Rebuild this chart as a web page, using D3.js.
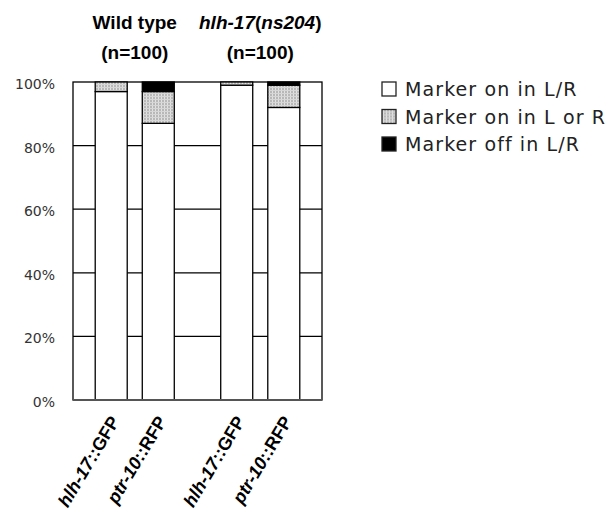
<!DOCTYPE html>
<html>
<head>
<meta charset="utf-8">
<script src="https://cdn.jsdelivr.net/npm/d3@7"></script>
<style>
  body { margin: 0; background: #fff; }
  svg { display: block; }
</style>
</head>
<body>
<div id="chart"></div>
<script>
// groups (strains) and reporters inside each group
const groups = ['Wild type', 'hlh-17(ns204)'];
const groupN = ['(n=100)', '(n=100)'];
const markers = ['hlh-17::GFP', 'ptr-10::RFP'];

// percentages per bar, order: WT hlh-17, WT ptr-10, mutant hlh-17, mutant ptr-10
const onInLR = [97, 87, 99, 92];
const onInLorR = [3, 10, 1, 7];
const offInLR = [0, 3, 0, 1];

const seriesKeys = ['onLR', 'onLorR', 'offLR'];
const legendLabels = ['Marker on in L/R', 'Marker on in L or R', 'Marker off in L/R'];
const yTicks = [0, 20, 40, 60, 80, 100];

const W = 616, H = 520;
const margin = {top: 82, left: 73, right: 294, bottom: 120};
const width = W - margin.left - margin.right;
const height = H - margin.top - margin.bottom;

// build table for the stack
const rows = [];
groups.forEach((g, gi) => {
  markers.forEach((m, mi) => {
    const i = gi * markers.length + mi;
    rows.push({group: g, marker: m, onLR: onInLR[i], onLorR: onInLorR[i], offLR: offInLR[i]});
  });
});

const svg = d3.select('#chart').append('svg')
  .attr('width', W)
  .attr('height', H);

const defs = svg.append('defs');
const pat = defs.append('pattern')
  .attr('id', 'stipple')
  .attr('patternUnits', 'userSpaceOnUse')
  .attr('width', 3)
  .attr('height', 3);
pat.append('rect').attr('width', 3).attr('height', 3).attr('fill', '#b8b8b8');
pat.append('rect').attr('x', 1).attr('width', 1).attr('height', 3).attr('fill', '#e2e2e2');
pat.append('rect').attr('y', 2).attr('width', 3).attr('height', 1).attr('fill', '#d6d6d6');

const fills = {onLR: '#fff', onLorR: 'url(#stipple)', offLR: '#000'};

const x0 = d3.scaleBand()
  .domain(groups)
  .range([0, width])
  .paddingInner(0.37)
  .paddingOuter(0.177);

const x1 = d3.scaleBand()
  .domain(markers)
  .range([0, x0.bandwidth()])
  .paddingInner(0.32);

const y = d3.scaleLinear()
  .domain([0, 100])
  .range([height, 0]);

const chart = svg.append('g')
  .attr('transform', `translate(${margin.left},${margin.top})`);

// horizontal grid lines
chart.append('g')
  .selectAll('line')
  .data(yTicks.filter(t => t > 0 && t < 100))
  .enter().append('line')
  .attr('x1', 0)
  .attr('x2', width)
  .attr('y1', d => y(d))
  .attr('y2', d => y(d))
  .attr('stroke', '#000')
  .attr('stroke-width', 1.3);

// plot frame
chart.append('rect')
  .attr('x', 0)
  .attr('y', 0)
  .attr('width', width)
  .attr('height', height)
  .attr('fill', 'none')
  .attr('stroke', '#000')
  .attr('stroke-width', 1.3);

// stacked bars
const stacked = d3.stack().keys(seriesKeys)(rows);

chart.append('g')
  .selectAll('g')
  .data(stacked)
  .enter().append('g')
  .attr('fill', d => fills[d.key])
  .selectAll('rect')
  .data(d => d.filter(s => s[1] > s[0]))
  .enter().append('rect')
  .attr('x', d => x0(d.data.group) + x1(d.data.marker))
  .attr('y', d => y(d[1]))
  .attr('width', x1.bandwidth())
  .attr('height', d => y(d[0]) - y(d[1]))
  .attr('stroke', '#000')
  .attr('stroke-width', 1.3);

// bottom axis line
chart.append('line')
  .attr('x1', 0)
  .attr('x2', width)
  .attr('y1', height)
  .attr('y2', height)
  .attr('stroke', '#555')
  .attr('stroke-width', 2);

// y tick labels
chart.append('g')
  .selectAll('text')
  .data(yTicks)
  .enter().append('text')
  .attr('x', -18)
  .attr('y', d => y(d) + 2)
  .attr('dy', '0.35em')
  .attr('text-anchor', 'end')
  .attr('font-family', 'DejaVu Sans, sans-serif')
  .attr('font-size', 14)
  .attr('fill', '#333')
  .text(d => d + '%');

// x labels, rotated, gene name in italics
const xl = chart.append('g')
  .selectAll('text')
  .data(rows)
  .enter().append('text')
  .attr('transform', d => {
    const cx = x0(d.group) + x1(d.marker) + x1.bandwidth() / 2 + 9;
    return `translate(${cx},${height + 21}) rotate(-59)`;
  })
  .attr('text-anchor', 'end')
  .attr('font-family', 'Liberation Sans, Arial, sans-serif')
  .attr('font-weight', 'bold')
  .attr('font-size', 18)
  .attr('fill', '#000');
xl.append('tspan')
  .attr('font-style', 'italic')
  .text(d => d.marker.split('::')[0]);
xl.append('tspan')
  .text(d => '::' + d.marker.split('::')[1]);

// group titles
const titles = svg.append('g')
  .selectAll('g')
  .data(groups)
  .enter().append('g')
  .attr('transform', d => `translate(${margin.left + x0(d) + x0.bandwidth() / 2},0)`)
  .attr('font-family', 'Liberation Sans, Arial, sans-serif')
  .attr('font-weight', 'bold')
  .attr('font-size', 19)
  .attr('text-anchor', 'middle');

titles.append('text')
  .attr('y', 29)
  .each(function(d, i) {
    const t = d3.select(this);
    if (i === 0) { t.text(d); return; }
    // genotype: italics except parentheses
    d.split(/([()])/).filter(s => s.length).forEach(part => {
      t.append('tspan')
        .attr('font-style', /[()]/.test(part) ? 'normal' : 'italic')
        .text(part);
    });
  });

titles.append('text')
  .attr('y', 59)
  .text((d, i) => groupN[i]);

// legend
const legend = svg.append('g')
  .attr('transform', 'translate(382,82)')
  .selectAll('g')
  .data(seriesKeys)
  .enter().append('g')
  .attr('transform', (d, i) => `translate(0,${i * 27.5})`);

legend.append('rect')
  .attr('width', 14)
  .attr('height', 14)
  .attr('fill', d => fills[d])
  .attr('stroke', '#222')
  .attr('stroke-width', 1.3);

legend.append('text')
  .attr('x', 23)
  .attr('y', 14)
  .attr('font-family', 'DejaVu Sans, sans-serif')
  .attr('font-size', 19)
  .attr('letter-spacing', 1.1)
  .attr('fill', '#222')
  .text((d, i) => legendLabels[i]);
</script>
</body>
</html>
